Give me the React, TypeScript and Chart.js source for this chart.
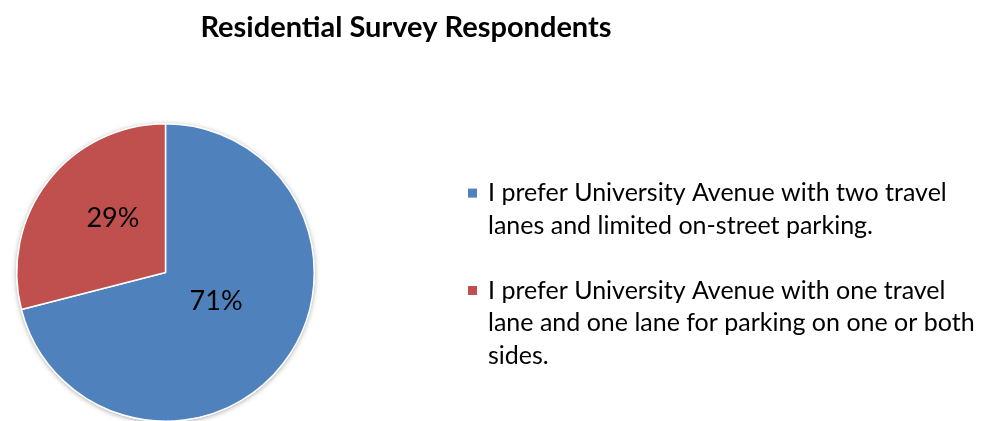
import React, { useEffect, useRef } from "react";
import { Chart, registerables } from "chart.js";

Chart.register(...registerables);

const TITLE = "Residential Survey Respondents";
const categories: string[][] = [
  ["I prefer University Avenue with two travel", "lanes and limited on-street parking."],
  ["I prefer University Avenue with one travel", "lane and one lane for parking on one or both", "sides."],
];
const values: number[] = [71, 29];
const percentLabels: string[] = ["71%", "29%"];
const colors: string[] = ["#4F81BD", "#C0504D"];

const W = 995;
const H = 430;

const shadowPlugin = {
  id: "pieShadow",
  beforeDatasetsDraw(chart: any) {
    const arc = chart.getDatasetMeta(0).data[0];
    if (!arc) return;
    const { x, y, outerRadius } = arc.getProps(["x", "y", "outerRadius"], true);
    const ctx = chart.ctx;
    ctx.save();
    ctx.shadowColor = "rgba(0,0,0,0.35)";
    ctx.shadowBlur = 5;
    ctx.shadowOffsetX = 0;
    ctx.shadowOffsetY = 1;
    ctx.beginPath();
    ctx.arc(x, y, outerRadius + 0.5, 0, Math.PI * 2);
    ctx.fillStyle = "#ffffff";
    ctx.fill();
    ctx.restore();
  },
};

const labelPlugin = {
  id: "sliceLabels",
  afterDatasetsDraw(chart: any) {
    const ctx = chart.ctx;
    const fr = [0.392, 0.507];
    const angOff = [-8, 8];
    const meta = chart.getDatasetMeta(0);
    meta.data.forEach((arc: any, i: number) => {
      const { x, y, startAngle, endAngle, outerRadius } = arc.getProps(
        ["x", "y", "startAngle", "endAngle", "outerRadius"],
        true
      );
      const mid = (startAngle + endAngle) / 2 + (angOff[i] * Math.PI) / 180;
      const r = outerRadius * fr[i];
      ctx.save();
      ctx.font = "27px Lato";
      ctx.fillStyle = "#000000";
      ctx.textAlign = "center";
      ctx.textBaseline = "middle";
      ctx.fillText(percentLabels[i], x + Math.cos(mid) * r, y + Math.sin(mid) * r);
      ctx.restore();
    });
  },
};

const titlePlugin = {
  id: "customTitle",
  afterDraw(chart: any) {
    const ctx = chart.ctx;
    ctx.save();
    ctx.font = "bold 29px Lato";
    ctx.fillStyle = "#000000";
    ctx.textAlign = "center";
    ctx.textBaseline = "middle";
    ctx.fillText(TITLE, 406, 28);
    ctx.restore();
  },
};

const legendPlugin = {
  id: "customLegend",
  afterDraw(chart: any) {
    const ctx = chart.ctx;
    const lineH = 32.7;
    const gap = 32;
    const totalLines = categories.reduce((s, c) => s + c.length, 0);
    const total = (totalLines - 1) * lineH + (categories.length - 1) * gap;
    const meta = chart.getDatasetMeta(0);
    const cy = meta.data[0] ? meta.data[0].y : 273;
    let y = cy - total / 2 + 2;
    ctx.save();
    ctx.font = "25px Lato";
    ctx.textAlign = "left";
    ctx.textBaseline = "middle";
    categories.forEach((lines, i) => {
      ctx.fillStyle = colors[i];
      ctx.fillRect(468, y - 4.5, 9, 9);
      ctx.fillStyle = "#000000";
      lines.forEach((ln, k) => {
        ctx.fillText(ln, 488, y + k * lineH);
      });
      y += (lines.length - 1) * lineH + lineH + gap;
    });
    ctx.restore();
  },
};

export default function App() {
  const ref = useRef<HTMLCanvasElement | null>(null);
  useEffect(() => {
    if (!ref.current) return;
    const chart = new Chart(ref.current, {
      type: "pie",
      data: {
        labels: categories,
        datasets: [
          {
            data: values,
            backgroundColor: colors,
            borderColor: "#ffffff",
            borderWidth: 1.5,
          },
        ],
      },
      options: {
        responsive: false,
        animation: false,
        devicePixelRatio: 1,
        layout: { padding: { left: 16, top: 123, right: W - 315, bottom: H - 422 } },
        plugins: {
          legend: { display: false },
          title: { display: false },
          tooltip: { enabled: false },
        },
      },
      plugins: [shadowPlugin, labelPlugin, titlePlugin, legendPlugin],
    });
    return () => chart.destroy();
  }, []);
  return (
    <div style={{ position: "fixed", left: 0, top: 0, width: W, height: H, background: "#fff" }}>
      <canvas ref={ref} width={W} height={H} style={{ width: W, height: H }} />
    </div>
  );
}
